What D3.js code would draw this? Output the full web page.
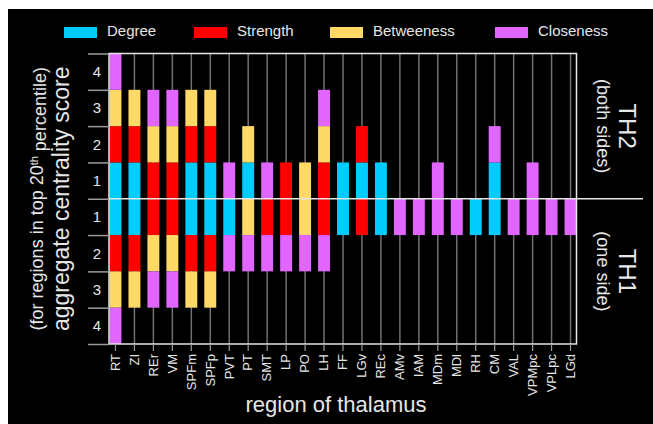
<!DOCTYPE html>
<html>
<head>
<meta charset="utf-8">
<script src="https://cdn.jsdelivr.net/npm/d3@7"></script>
<style>
  body { margin: 0; background: #fff; }
  svg { display: block; }
  text { font-family: "Liberation Sans", Arial, sans-serif; }
</style>
</head>
<body>
<div id="chart"></div>
<script>
// regions of thalamus along the x axis
const regions = ["RT", "ZI", "REr", "VM", "SPFm", "SPFp", "PVT", "PT", "SMT", "LP", "PO", "LH", "FF",
  "LGv", "REc", "AMv", "IAM", "MDm", "MDl", "RH", "CM", "VAL", "VPMpc", "VPLpc", "LGd"];

const metrics = ["Degree", "Strength", "Betweeness", "Closeness"];
const colors = ["#00ccff", "#ff0000", "#ffd966", "#e066ff"];

// TH2 (both sides): 1 = region is in top 20th percentile for that metric
const th2Degree     = [1,1,0,0,1,1,0,1,0,0,0,0,1,1,1,0,0,0,0,0,1,0,0,0,0];
const th2Strength   = [1,1,1,1,1,1,0,0,0,1,0,1,0,1,0,0,0,0,0,0,0,0,0,0,0];
const th2Betweeness = [1,1,1,1,1,1,0,1,0,0,1,1,0,0,0,0,0,0,0,0,0,0,0,0,0];
const th2Closeness  = [1,0,1,1,0,0,1,0,1,0,0,1,0,0,0,0,0,1,0,0,1,0,1,0,0];

// TH1 (one side)
const th1Degree     = [1,1,0,0,1,1,1,0,0,0,0,0,1,0,1,0,0,0,0,1,1,0,0,0,0];
const th1Strength   = [1,1,1,1,1,1,0,0,1,1,0,1,0,1,0,0,0,0,0,0,0,0,0,0,0];
const th1Betweeness = [1,1,1,1,1,1,0,1,0,0,1,0,0,0,0,0,0,0,0,0,0,0,0,0,0];
const th1Closeness  = [1,0,1,1,0,0,1,1,1,1,1,1,0,0,0,1,1,1,1,0,0,1,1,1,1];

// score tick labels, top to bottom
const yTickLabels = [4, 3, 2, 1, 1, 2, 3, 4];

const W = 653, H = 424;
const plot = {left: 109, right: 576.5, top: 53.5, bottom: 344};

const svg = d3.select("#chart")
  .append("svg")
    .attr("width", W)
    .attr("height", H);

// black panel (the white strip top and left is part of the picture)
svg.append("rect")
  .attr("x", 8).attr("y", 9)
  .attr("width", W - 8).attr("height", H - 9)
  .attr("fill", "#000");

const x = d3.scaleBand()
  .domain(regions)
  .range([plot.left + 0.5, plot.right])
  .paddingInner(0.37)
  .paddingOuter(0);

const y = d3.scaleLinear()
  .domain([-4, 4])
  .range([plot.bottom, plot.top]);

function rows(deg, str, bet, clo, sign) {
  return regions.map((r, i) => ({
    region: r,
    Degree: deg[i] * sign,
    Strength: str[i] * sign,
    Betweeness: bet[i] * sign,
    Closeness: clo[i] * sign
  }));
}

const stack = d3.stack().keys(metrics).offset(d3.stackOffsetDiverging);
const upper = stack(rows(th2Degree, th2Strength, th2Betweeness, th2Closeness, 1));
const lower = stack(rows(th1Degree, th1Strength, th1Betweeness, th1Closeness, -1));

// vertical grid lines at each region
svg.append("g")
  .selectAll("line")
  .data(regions)
  .join("line")
    .attr("x1", d => x(d) + x.bandwidth() / 2)
    .attr("x2", d => x(d) + x.bandwidth() / 2)
    .attr("y1", plot.top)
    .attr("y2", plot.bottom)
    .attr("stroke", "#707070")
    .attr("stroke-width", 1.5);

// stacked bars
[upper, lower].forEach(series => {
  svg.append("g")
    .selectAll("g")
    .data(series)
    .join("g")
      .attr("fill", (d, i) => colors[i])
    .selectAll("rect")
    .data(d => d.filter(s => s[1] !== s[0]))
    .join("rect")
      .attr("x", d => x(d.data.region))
      .attr("width", x.bandwidth())
      .attr("y", d => y(Math.max(d[0], d[1])))
      .attr("height", d => Math.abs(y(d[0]) - y(d[1])));
});

// frame
svg.append("rect")
  .attr("x", plot.left).attr("y", plot.top)
  .attr("width", plot.right - plot.left)
  .attr("height", plot.bottom - plot.top)
  .attr("fill", "none")
  .attr("stroke", "#e6e6e6")
  .attr("stroke-width", 1.5);

// divider between TH2 and TH1
svg.append("line")
  .attr("x1", plot.left).attr("x2", 643)
  .attr("y1", y(0)).attr("y2", y(0))
  .attr("stroke", "#e6e6e6")
  .attr("stroke-width", 1.5);

// y axis: long ticks at integer scores
const yTicks = svg.append("g")
  .attr("transform", "translate(" + plot.left + ",0)")
  .call(d3.axisLeft(y).tickValues(d3.range(-4, 5)).tickSize(21).tickFormat(""));
yTicks.select(".domain").remove();
yTicks.selectAll("line").attr("stroke", "#9a9a9a").attr("stroke-width", 1.5);

// y axis: labels between ticks
const yLabelPos = [3.5, 2.5, 1.5, 0.5, -0.5, -1.5, -2.5, -3.5];
const yLabels = svg.append("g")
  .attr("transform", "translate(" + plot.left + ",0)")
  .call(d3.axisLeft(y).tickValues(yLabelPos).tickSize(0).tickPadding(8)
    .tickFormat((d, i) => yTickLabels[i]));
yLabels.select(".domain").remove();
yLabels.selectAll("text")
  .attr("fill", "#e6e6e6")
  .style("font-size", "15px")
  .style("font-family", "Liberation Sans, Arial, sans-serif");

// x axis
const xAxis = svg.append("g")
  .attr("transform", "translate(0," + plot.bottom + ")")
  .call(d3.axisBottom(x).tickSize(7).tickPadding(3));
xAxis.select(".domain").remove();
xAxis.selectAll("line").attr("stroke", "#9a9a9a").attr("stroke-width", 1.2);
xAxis.selectAll("text")
  .attr("fill", "#e6e6e6")
  .style("font-size", "13px")
  .style("font-family", "Liberation Sans, Arial, sans-serif")
  .attr("text-anchor", "end")
  .attr("transform", "rotate(-90)")
  .attr("x", -10)
  .attr("y", 0)
  .attr("dy", "0.33em");

// axis titles
svg.append("text")
  .attr("x", 336).attr("y", 412)
  .attr("text-anchor", "middle")
  .attr("fill", "#e6e6e6")
  .style("font-size", "22px")
  .text("region of thalamus");

const yMid = y(0);
svg.append("text")
  .attr("transform", "translate(69," + yMid + ") rotate(-90)")
  .attr("text-anchor", "middle")
  .attr("fill", "#e6e6e6")
  .style("font-size", "23px")
  .text("aggregate centrality score");

const sub = svg.append("text")
  .attr("transform", "translate(43," + yMid + ") rotate(-90)")
  .attr("text-anchor", "middle")
  .attr("fill", "#e6e6e6")
  .style("font-size", "18px");
sub.append("tspan").text("(for regions in top 20");
sub.append("tspan").attr("dy", "-0.45em").style("font-size", "11px").text("th");
sub.append("tspan").attr("dy", "0.45em").text(" percentile)");

// side labels
const sides = [
  {name: "TH2", note: "(both sides)", mid: (y(4) + y(0)) / 2},
  {name: "TH1", note: "(one side)", mid: (y(0) + y(-4)) / 2}
];
sides.forEach(s => {
  svg.append("text")
    .attr("transform", "translate(619," + s.mid + ") rotate(90)")
    .attr("text-anchor", "middle")
    .attr("fill", "#e6e6e6")
    .style("font-size", "24px")
    .text(s.name);
  svg.append("text")
    .attr("transform", "translate(597," + s.mid + ") rotate(90)")
    .attr("text-anchor", "middle")
    .attr("fill", "#e6e6e6")
    .style("font-size", "18px")
    .text(s.note);
});

// legend
const legendX = [64, 194, 330, 495];
const legend = svg.append("g")
  .selectAll("g")
  .data(metrics)
  .join("g")
    .attr("transform", (d, i) => "translate(" + legendX[i] + ",27)");
legend.append("rect")
  .attr("width", 33).attr("height", 11)
  .attr("fill", (d, i) => colors[i]);
legend.append("text")
  .attr("x", 43).attr("y", 9)
  .attr("fill", "#e6e6e6")
  .style("font-size", "15px")
  .text(d => d);
</script>
</body>
</html>
